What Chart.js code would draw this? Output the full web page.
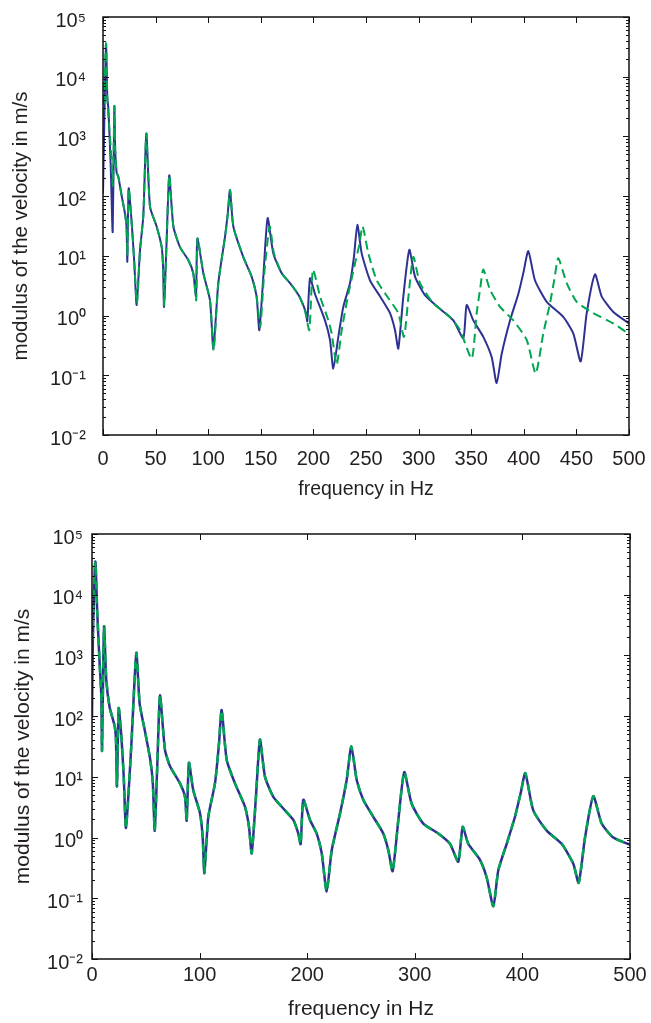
<!DOCTYPE html>
<html><head><meta charset="utf-8">
<script src="https://cdn.jsdelivr.net/npm/chart.js@4.4.1/dist/chart.umd.min.js"></script>
<style>
html,body{margin:0;padding:0;background:#fff;}
#wrap{position:relative;width:651px;height:1023px;overflow:hidden;background:#fff;}
canvas{position:absolute;left:0;}
#c1{top:0;width:651px;height:510px;}
#c2{top:510px;width:651px;height:513px;}
</style></head><body>
<div id="wrap"><canvas id="c1" width="651" height="510"></canvas><canvas id="c2" width="651" height="513"></canvas></div>
<script>
// ---------- axis tick definitions ----------
const yTickValues = [1e-2, 1e-1, 1e0, 1e1, 1e2, 1e3, 1e4, 1e5];
const yTickLabels = ['10\u207B\u00B2', '10\u207B\u00B9', '10\u2070', '10\u00B9', '10\u00B2', '10\u00B3', '10\u2074', '10\u2075'];
const topXTicks = [0, 50, 100, 150, 200, 250, 300, 350, 400, 450, 500];
const botXTicks = [0, 100, 200, 300, 400, 500];

// ---------- top panel: blue solid ----------
const topBlueHz = [0, 1.2, 2.9, 4.1, 5.1, 7.3, 9.2, 10.8, 11.6, 13, 14.5, 17.8, 20.9, 22.4, 23.1, 24.4, 27.3, 29.8, 32, 35.2, 38.3, 41.2, 44.7, 51, 55.8, 57.2, 58, 60.5, 63, 66.9, 73.2, 81.1, 85.8, 88.4, 89.7, 95.4, 101.7, 104.9, 109.6, 116, 118.5, 120.7, 123.9, 133.4, 141.3, 146, 148.6, 152.4, 156.5, 161.9, 169.9, 177.8, 186.6, 193, 194.2, 196.8, 201.5, 211, 215.8, 218.9, 223.7, 228.4, 234.8, 238.5, 241.8, 245.9, 253.8, 263.3, 272.8, 277.6, 280.7, 285.5, 291.2, 296.6, 306, 320.3, 333, 342.5, 345.7, 352, 361.5, 369.5, 374.2, 379, 386.9, 394.8, 399.5, 404.3, 410.6, 421.8, 437.5, 447.1, 454.1, 459.8, 467.7, 474, 485.1, 500];
const topBlueVal = [110, 1700, 36000, 4400, 2950, 330, 25, 3200, 590, 245, 214, 100, 51, 30, 8, 135, 35, 7.4, 1.5, 12.6, 46, 1120, 66, 31, 14, 6, 1.4, 18, 224, 31, 14, 8.5, 5.1, 2.1, 19.5, 5.1, 1.8, 0.28, 3.5, 21, 50, 126, 31, 9.5, 4.5, 2.1, 0.57, 4.5, 43, 11, 5.1, 3.5, 2.1, 1.1, 0.8, 4.2, 2.3, 0.83, 0.39, 0.13, 0.44, 1.4, 3.5, 9.5, 33, 11, 3.9, 2.1, 1.1, 0.57, 0.28, 2.1, 12.6, 4.5, 2.2, 1.3, 0.83, 0.42, 1.5, 0.83, 0.44, 0.2, 0.074, 0.23, 0.83, 2.3, 5.1, 12, 3.9, 1.7, 0.95, 0.5, 0.17, 1.1, 4.9, 2.1, 1.15, 0.74];

// ---------- top panel: green dashed ----------
const topGreenHz = [0, 1.3, 2.9, 4.1, 5.5, 7.5, 9.4, 10.8, 11.6, 13, 14.5, 17.8, 20.9, 22.4, 23.2, 24.4, 27.3, 29.8, 32.2, 35.2, 38.3, 41.2, 44.7, 51, 55.8, 57.2, 58.2, 60.5, 63, 66.9, 73.2, 81.1, 85.8, 88.6, 89.9, 95.4, 101.7, 105.2, 109.6, 116, 118.7, 120.9, 123.9, 133.4, 141.3, 146, 149.5, 153, 158.5, 162.5, 169.9, 177.8, 186.6, 192, 196.1, 199.6, 206.3, 214.2, 217.4, 222.1, 226.9, 233.2, 239.5, 243.5, 246.8, 252.2, 260.2, 271.3, 280.7, 286.1, 290.6, 295, 301.3, 314, 329.8, 339.4, 350.5, 355.2, 358.5, 361.5, 367.9, 377.4, 390, 402.8, 411.3, 418.5, 424.9, 429, 432.8, 440.8, 450.3, 466.1, 485.1, 500];
const topGreenVal = [2000, 7000, 36000, 4400, 1800, 600, 150, 3200, 590, 245, 214, 100, 51, 30, 10, 135, 35, 7.4, 1.6, 12.6, 46, 1120, 66, 31, 14, 6, 1.5, 18, 224, 31, 14, 8.5, 5.1, 1.8, 19.5, 5.1, 1.8, 0.26, 3.5, 21, 50, 126, 31, 9.5, 4.5, 2.1, 0.65, 4.5, 31, 11, 5.1, 3.5, 2.1, 1.2, 0.57, 5.9, 2.1, 0.83, 0.5, 0.15, 0.57, 2.3, 7.4, 15, 31, 11, 3.9, 1.95, 1.1, 0.44, 2.3, 9.6, 3.5, 1.6, 0.95, 0.57, 0.19, 1.1, 2.8, 5.9, 2.7, 1.4, 0.83, 0.39, 0.107, 0.5, 1.6, 4, 9.1, 3.5, 1.7, 1.1, 0.74, 0.49];

// ---------- bottom panel: blue solid ----------
const botBlueHz = [0, 0.8, 3.1, 4.9, 7.1, 8.7, 9.3, 11.2, 13.3, 16.4, 21.1, 22.3, 23.2, 24.8, 27.3, 29.5, 31.6, 36.5, 41.2, 44.3, 49, 54, 56.5, 58.3, 60.8, 63.2, 67.8, 72.5, 81.8, 86.4, 88, 90.1, 94.1, 100.4, 102.9, 104.4, 108.1, 114.3, 118, 120.5, 125.2, 132.9, 142.2, 145.9, 148.4, 152.3, 156.1, 160.8, 168.5, 179.4, 187.1, 191.7, 193.9, 196.4, 202.6, 208.8, 213.5, 218.1, 222.8, 230.5, 236.7, 241, 246, 252.1, 261.4, 270.7, 275.4, 279.4, 285, 290.2, 297.1, 307.9, 321.8, 332.7, 340.4, 344.5, 349.7, 360.6, 366.8, 373, 377.6, 385.4, 393.1, 398.5, 402.7, 410.1, 422.6, 436.5, 447.3, 452.3, 458.2, 465.9, 473.7, 484.5, 500];
const botBlueVal = [95, 1800, 35000, 4900, 740, 210, 27, 3000, 390, 140, 68, 40, 7, 135, 46, 10, 1.45, 32, 1100, 160, 59, 20, 8, 1.3, 18, 220, 28, 15, 7.8, 4.7, 1.9, 17, 6, 2.5, 1.0, 0.26, 2.2, 7.8, 35, 126, 19, 7.8, 3.2, 1.5, 0.55, 4.5, 41, 10, 4.7, 2.8, 1.95, 1.17, 0.78, 4.2, 1.95, 1.17, 0.55, 0.13, 0.62, 2.5, 8.9, 32, 8.9, 4.2, 2.2, 1.17, 0.62, 0.28, 2.2, 12, 3.6, 1.7, 1.17, 0.79, 0.40, 1.5, 0.79, 0.43, 0.22, 0.074, 0.29, 0.79, 2.2, 5.5, 11.5, 2.8, 1.3, 0.79, 0.37, 0.18, 1.0, 4.8, 1.7, 1.0, 0.76];

// ---------- bottom panel: green dashed ----------
const botGreenHz = [0, 3.1, 4.9, 7.1, 8.7, 9.3, 11.2, 13.3, 16.4, 21.1, 22.3, 23.2, 24.8, 27.3, 29.5, 31.6, 36.5, 41.2, 44.3, 49, 54, 56.5, 58.3, 60.8, 63.2, 67.8, 72.5, 81.8, 86.4, 88, 90.1, 94.1, 100.4, 102.9, 104.4, 108.1, 114.3, 118, 120.5, 125.2, 132.9, 142.2, 145.9, 148.4, 152.3, 156.1, 160.8, 168.5, 179.4, 187.1, 191.7, 193.9, 196.4, 202.6, 208.8, 213.5, 218.1, 222.8, 230.5, 236.7, 241, 246, 252.1, 261.4, 270.7, 275.4, 279.4, 285, 290.2, 297.1, 307.9, 321.8, 332.7, 340.4, 344.5, 349.7, 360.6, 366.8, 373, 377.6, 385.4, 393.1, 398.5, 402.7, 410.1, 422.6, 436.5, 447.3, 452.3, 458.2, 465.9, 473.7, 484.5, 500];
const botGreenVal = [1800, 35000, 4900, 740, 210, 27, 3000, 390, 140, 68, 40, 7, 135, 46, 10, 1.45, 32, 1100, 160, 59, 20, 8, 1.3, 18, 220, 28, 15, 7.8, 4.7, 1.9, 17, 6, 2.5, 1.0, 0.26, 2.2, 7.8, 35, 126, 19, 7.8, 3.2, 1.5, 0.55, 4.5, 41, 10, 4.7, 2.8, 1.95, 1.17, 0.78, 4.2, 1.95, 1.17, 0.55, 0.13, 0.62, 2.5, 8.9, 32, 8.9, 4.2, 2.2, 1.17, 0.62, 0.28, 2.2, 12, 3.6, 1.7, 1.17, 0.79, 0.40, 1.5, 0.79, 0.43, 0.22, 0.074, 0.29, 0.79, 2.2, 5.5, 11.5, 2.8, 1.3, 0.79, 0.37, 0.18, 1.0, 4.8, 1.7, 1.0, 0.76];

const BLUE = '#2e3192';
const GREEN = '#00a651';
const INK = '#231f20';
const FONT = '"Liberation Sans", Arial, Helvetica, sans-serif';

function pts(xs, ys) { return xs.map((x, i) => ({ x: x, y: ys[i] })); }
function noScalePadding(s) { s.paddingTop = 0; s.paddingBottom = 0; s.paddingLeft = 0; s.paddingRight = 0; }

// frame + inward MATLAB-like tick marks
const framePlugin = {
  id: 'frame',
  afterDatasetsDraw(chart, args, o) {
    const ctx = chart.ctx;
    const a = chart.chartArea;
    const xs = chart.scales.x, ys = chart.scales.y;
    ctx.save();
    ctx.strokeStyle = o.color || '#000';
    ctx.lineWidth = o.lineWidth || 1.5;
    ctx.beginPath();
    ctx.rect(a.left, a.top, a.right - a.left, a.bottom - a.top);
    ctx.stroke();
    ctx.lineWidth = 1;
    ctx.beginPath();
    const L = o.major, m = o.minor;
    o.xTicks.forEach(v => {
      const p = Math.round(xs.getPixelForValue(v)) + 0.5;
      ctx.moveTo(p, a.bottom); ctx.lineTo(p, a.bottom - L);
      ctx.moveTo(p, a.top); ctx.lineTo(p, a.top + L);
    });
    yTickValues.forEach((v, k) => {
      const p = Math.round(ys.getPixelForValue(v)) + 0.5;
      ctx.moveTo(a.left, p); ctx.lineTo(a.left + L, p);
      ctx.moveTo(a.right, p); ctx.lineTo(a.right - L, p);
      if (k < yTickValues.length - 1) {
        for (let j = 2; j <= 9; j++) {
          const q = Math.round(ys.getPixelForValue(v * j)) + 0.5;
          ctx.moveTo(a.left, q); ctx.lineTo(a.left + m, q);
          ctx.moveTo(a.right, q); ctx.lineTo(a.right - m, q);
        }
      }
    });
    ctx.stroke();
    ctx.restore();
  }
};

function makeChart(id, cfg) {
  return new Chart(document.getElementById(id), {
    type: 'line',
    data: {
      datasets: [
        { data: pts(cfg.gx, cfg.gy), borderColor: GREEN, borderWidth: cfg.lw, borderDash: cfg.dash,
          pointRadius: 0, fill: false, tension: 0.2, borderJoinStyle: 'round' },
        { data: pts(cfg.bx, cfg.by), borderColor: BLUE, borderWidth: cfg.lw,
          pointRadius: 0, fill: false, tension: 0.2, borderJoinStyle: 'round' }
      ]
    },
    options: {
      responsive: false, animation: false, events: [],
      layout: { padding: { top: cfg.padTop, right: cfg.padRight, left: 0, bottom: 0 } },
      plugins: {
        legend: { display: false }, tooltip: { enabled: false },
        frame: { xTicks: cfg.xTicks, major: 6, minor: 3, lineWidth: 1.5, color: '#111' }
      },
      scales: {
        x: {
          type: 'linear', min: 0, max: 500,
          afterBuildTicks: s => { s.ticks = cfg.xTicks.map(v => ({ value: v })); },
          afterFit: s => { s.height = cfg.xH; noScalePadding(s); },
          grid: { display: false, drawTicks: false },
          border: { display: false },
          ticks: { color: INK, font: { family: FONT, size: 20 }, padding: cfg.xPad, maxRotation: 0, autoSkip: false },
          title: { display: true, text: 'frequency in Hz', color: INK,
                   font: { family: FONT, size: cfg.xTitleSize }, padding: { top: 0, bottom: cfg.xTitlePad } }
        },
        y: {
          type: 'logarithmic', min: 1e-2, max: 1e5,
          afterBuildTicks: s => { s.ticks = yTickValues.map(v => ({ value: v })); },
          afterFit: s => { s.width = cfg.yW; noScalePadding(s); },
          grid: { display: false, drawTicks: false },
          border: { display: false },
          ticks: { color: INK, font: { family: FONT, size: 20 }, padding: cfg.yPad, labelOffset: 4, autoSkip: false,
                   callback: (v, i) => yTickLabels[i] },
          title: { display: true, text: 'modulus of the velocity in m/s', color: INK,
                   font: { family: FONT, size: cfg.yTitleSize }, padding: { top: cfg.yTitlePad, bottom: 0 } }
        }
      }
    },
    plugins: [framePlugin]
  });
}

makeChart('c1', {
  bx: topBlueHz, by: topBlueVal, gx: topGreenHz, gy: topGreenVal,
  lw: 2, dash: [9, 5], xTicks: topXTicks,
  padTop: 17, padRight: 22, xH: 75, yW: 103, xPad: 12, yPad: 17,
  xTitleSize: 19.5, yTitleSize: 20.5, xTitlePad: 9, yTitlePad: 9
});
makeChart('c2', {
  bx: botBlueHz, by: botBlueVal, gx: botGreenHz, gy: botGreenVal,
  lw: 2.5, dash: [8, 6], xTicks: botXTicks,
  padTop: 24, padRight: 21, xH: 64, yW: 92, xPad: 4, yPad: 9,
  xTitleSize: 21, yTitleSize: 21, xTitlePad: 1, yTitlePad: 11
});
</script></body></html>
